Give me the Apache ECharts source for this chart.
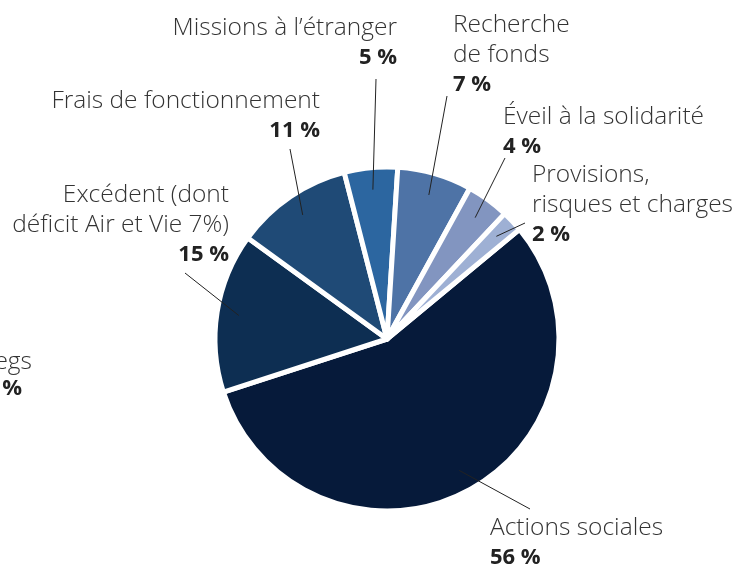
<!DOCTYPE html>
<html lang="fr">
<head>
<meta charset="UTF-8">
<title>Répartition des dépenses</title>
<script src="https://cdn.jsdelivr.net/npm/echarts@6/dist/echarts.min.js"></script>
<style>
  html, body { margin: 0; padding: 0; background: #fff; }
  #chart { width: 743px; height: 568px; }
</style>
</head>
<body>
<div id="chart"></div>
<script>
  // données en %
  const names = ['Actions sociales', 'Excédent (dont\ndéficit Air et Vie 7%)', 'Frais de fonctionnement',
    'Missions à l’étranger', 'Recherche\nde fonds', 'Éveil à la solidarité', 'Provisions,\nrisques et charges'];
  const values = [56, 15, 11, 5, 7, 4, 2];
  const colors = ['#061a3a', '#0d2e52', '#1f4a76', '#2c66a0', '#4e73a6', '#8295c0', '#9eb0d4'];

  // position des étiquettes : x, y (haut du bloc), alignement
  const labelPos = [[490, 513, 'left'], [229, 180, 'right'], [320, 86, 'right'], [397, 13, 'right'],
    [453, 10, 'left'], [503, 102, 'left'], [532, 160, 'left']];
  // départ des traits de rappel
  const lineFrom = [[530, 510], [185, 272], [290, 148], [376, 78], [447, 95], [505, 157], [525, 222]];

  const FONT = '"Open Sans", Lato, sans-serif';

  function richFor(al) {
    return {
      n: { fontFamily: FONT, fontSize: 24.5, fontWeight: 300, color: '#333', lineHeight: 30, align: al },
      p: { fontFamily: FONT, fontSize: 22, fontWeight: 'bold', color: '#222', lineHeight: 30, align: al }
    };
  }

  let myChart = echarts.init(document.getElementById('chart'));
  let pieData = [];
  let lineData = [];
  for (let i = 0; i < names.length; i++) {
    pieData.push({
      name: names[i], value: values[i],
      itemStyle: { color: colors[i] },
      label: { align: labelPos[i][2], rich: richFor(labelPos[i][2]) }
    });
    lineData.push({ name: names[i], value: values[i] });
  }

  let option = {
    animation: false,
    graphic: [
      { type: 'text', x: 32, y: 362, style: { text: 'Dons et legs', align: 'right', verticalAlign: 'middle', font: '300 24.5px "Open Sans"', fill: '#333' } },
      { type: 'text', x: 22, y: 389, style: { text: '%', align: 'right', verticalAlign: 'middle', font: 'bold 22px "Open Sans"', fill: '#222' } }
    ],
    series: [
      {
        type: 'pie',
        z: 2,
        center: [387, 339],
        radius: 172,
        startAngle: 39.6,
        clockwise: true,
        silent: true,
        itemStyle: { borderColor: '#fff', borderWidth: 5 },
        label: {
          show: true,
          overflow: 'none',
          formatter: function (p) { return '{n|' + p.name + '}\n{p|' + p.value + ' %}'; }
        },
        labelLine: { show: false },
        labelLayout: function (params) {
          let lp = labelPos[params.dataIndex];
          return { x: lp[0], y: lp[1], align: lp[2], verticalAlign: 'top' };
        },
        data: pieData
      },
      {
        // pie invisible qui porte les traits de rappel
        type: 'pie',
        z: 3,
        center: [387, 339],
        radius: 150,
        startAngle: 39.6,
        clockwise: true,
        silent: true,
        itemStyle: { color: 'rgba(0,0,0,0)', borderWidth: 0 },
        label: { show: true, formatter: ' ', fontSize: 2 },
        labelLine: { show: true, length: 0, length2: 0, lineStyle: { color: '#222', width: 1 } },
        labelLayout: function (params) {
          let lf = lineFrom[params.dataIndex];
          return { x: lf[0], y: lf[1], align: 'center', verticalAlign: 'middle' };
        },
        data: lineData
      }
    ]
  };
  myChart.setOption(option, true);
  window.addEventListener('resize', function () {
    myChart.resize();
  });
</script>
</body>
</html>
